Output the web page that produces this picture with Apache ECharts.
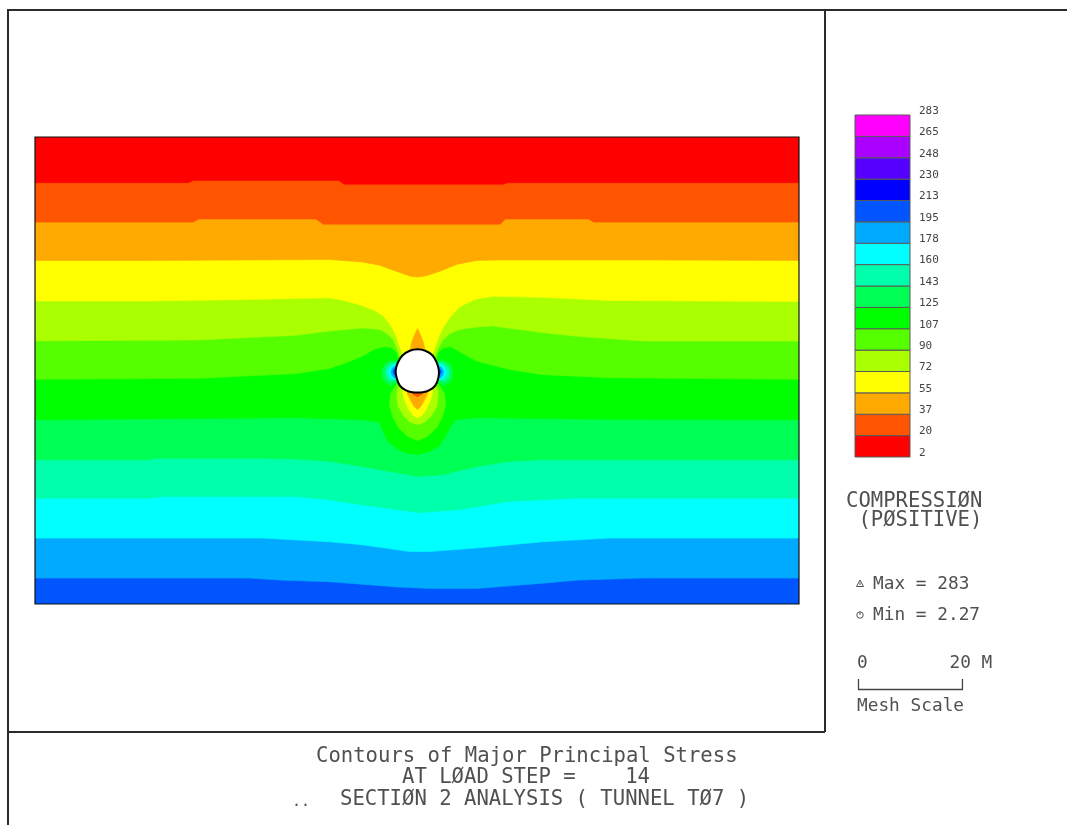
<!DOCTYPE html>
<html>
<head>
<meta charset="utf-8">
<script src="https://cdn.jsdelivr.net/npm/echarts@6/dist/echarts.min.js"></script>
<style>
html,body{margin:0;padding:0;background:#fff;}
#chart{width:1067px;height:825px;}
</style>
</head>
<body>
<div id="chart"></div>
<script>
// Mesh extent (m)
const meshWidth = 147;
const meshHeight = 90;

// Contour levels of major principal stress (compression positive)
const levels = [2.27, 19.82, 37.36, 54.91, 72.46, 90.0, 107.55, 125.1, 142.64, 160.19, 177.74, 195.28, 212.83, 230.38, 247.92, 265.47, 283.0];
const levelLabels = ['2', '20', '37', '55', '72', '90', '107', '125', '143', '160', '178', '195', '213', '230', '248', '265', '283'];
const bandColors = ['#ff0000', '#ff5500', '#ffaa00', '#ffff00', '#aaff00', '#55ff00', '#00ff00', '#00ff55',
                    '#00ffaa', '#00ffff', '#00aaff', '#0055ff', '#0000ff', '#5500ff', '#aa00ff', '#ff00ff'];

// Iso-stress lines across the section, [x (m), y (m)], left to right
const contour20 = [[0,81.2],[29.5,81.2],[30.5,81.6],[58.5,81.6],[59.5,80.9],[90,80.9],[91,81.2],[147,81.2]];
const contour37 = [[0,73.6],[30.5,73.6],[31.5,74.2],[54,74.2],[55.5,73.2],[89.5,73.2],[90.5,74.2],[106.5,74.2],[107.5,73.6],[147,73.6]];
const contour55 = [[0,66.2],[22,66.2],[41.2,66.3],[56.6,66.4],[63,65.9],[66.3,65.3],[69.6,64.1],[72.1,63.2],[73.6,63.0],[75.1,63.2],[77.8,64.1],[81.3,65.5],[85,66.2],[89.4,66.3],[118.3,66.3],[147,66.2]];
const contour72 = [[0,58.4],[22,58.4],[41.2,58.7],[56.6,59.0],[59.9,58.4],[63,57.5],[65.3,56.6],[66.9,55.6],[68.0,54.3],[69.0,52.7],[69.6,51.4],[70.1,49.8],[70.8,48.0],[73.6,45.0],[76.4,48.0],[77.1,49.8],[77.8,51.8],[78.8,53.7],[80.0,55.4],[81.7,57.3],[84.6,58.7],[88.0,59.3],[97.7,59.1],[110.6,58.5],[147,58.3]];
const contour90 = [[0,50.7],[31.6,50.9],[50.3,51.8],[56.6,52.6],[63,53.2],[66.3,52.9],[67.8,52.1],[69.0,50.8],[69.7,49.1],[70.3,47.5],[73.6,45.0],[76.9,47.5],[77.5,49.1],[78.4,50.8],[79.8,52.1],[81.7,52.9],[85.0,53.4],[88.0,53.6],[97.7,52.3],[104.2,51.6],[116.9,50.7],[147,50.7]];
const contour107 = [[0,43.3],[31.6,43.5],[50.3,44.4],[56.6,45.4],[59.9,46.5],[63,47.8],[65.3,49.1],[67.2,49.6],[68.6,49.4],[69.6,48.5],[70.0,47.0],[73.6,45.0],[77.2,47.0],[77.6,48.5],[78.6,49.4],[80.0,49.6],[81.9,48.5],[85.0,46.8],[91.3,45.2],[97.7,44.2],[110.6,43.6],[147,43.3]];
const contour125 = [[0,35.5],[50.3,35.9],[63,35.5],[66.3,35.0],[67.0,33.2],[67.8,31.5],[69.4,30.1],[71.1,29.2],[73.6,28.8],[75.9,29.4],[77.8,30.5],[79.0,32.3],[80.0,34.2],[80.9,35.5],[85.0,35.9],[108.7,35.6],[147,35.5]];
const contour143 = [[0,27.8],[22,27.8],[22.9,28.1],[44.1,28.1],[50.9,27.9],[56.6,27.5],[63,26.5],[69.6,25.3],[73.6,24.6],[78.4,24.9],[85,26.5],[91.3,27.5],[97.7,27.8],[147,27.8]];
const contour160 = [[0,20.4],[22,20.4],[24.5,20.7],[50.3,20.7],[56.6,20.1],[63,19.1],[69.6,18.2],[74,17.6],[81.7,18.2],[91.3,19.8],[104.2,20.4],[147,20.4]];
const contour178 = [[0,12.7],[43.7,12.7],[56.6,12.0],[63,11.4],[72.1,10.1],[75.9,10.1],[85,10.8],[97.7,12.0],[110.6,12.7],[147,12.7]];
const contour195 = [[0,5.0],[41.2,5.0],[47.6,4.6],[56.6,4.3],[69.6,3.3],[75.9,3.0],[85,3.0],[97.7,4.0],[104.2,4.6],[116.9,5.0],[147,5.0]];

// Low-stress zones below the invert and above the crown (closed through the opening)
const invertLobe107 = [[70.1,42.9],[69.2,41.9],[68.4,40.4],[68.2,38.4],[68.8,36.1],[69.9,34.0],[71.7,32.3],[73.6,31.5],[75.5,32.3],[77.3,34.0],[78.4,36.1],[79.0,38.4],[78.8,40.4],[78.0,41.9],[77.1,42.9],[73.6,45.0]];
const invertLobe90 = [[70.4,42.4],[69.7,41.3],[69.6,39.8],[69.9,38.0],[70.9,36.3],[72.2,35.0],[73.6,34.6],[74.9,35.0],[76.3,36.3],[77.3,38.0],[77.6,39.8],[77.5,41.3],[76.8,42.4],[73.6,45.0]];
const invertLobe72 = [[70.9,41.9],[70.7,40.8],[71.1,39.2],[71.9,37.5],[72.8,36.3],[73.6,35.9],[74.4,36.3],[75.3,37.5],[76.1,39.2],[76.5,40.8],[76.3,41.9],[73.6,45.0]];
const invertLobe55 = [[71.5,41.5],[71.7,40.4],[72.3,39.2],[73.0,38.0],[73.6,37.5],[74.2,38.0],[74.9,39.2],[75.5,40.4],[75.6,41.5],[73.6,45.0]];
const invertLobe37 = [[72.3,41.1],[72.8,40.4],[73.6,39.9],[74.4,40.4],[74.9,41.1],[73.6,42.3]];
const crownSpike55 = [[72.2,48.8],[72.4,50.2],[73.0,51.8],[73.6,53.1],[74.2,51.8],[74.8,50.2],[75.0,48.8],[73.6,45.0]];

// High-stress concentrations at the sidewalls
const leftSpot125 = [[69.9,46.8],[68.6,46.9],[67.4,46.3],[66.8,45.2],[66.8,43.8],[67.4,42.7],[68.6,42.1],[70.0,43.0],[72.1,45.0]];
const leftSpot143 = [[69.7,46.5],[68.6,46.4],[67.7,45.7],[67.4,44.8],[67.6,43.6],[68.4,42.9],[69.8,43.3],[72.1,45.0]];
const leftSpot160 = [[69.6,46.2],[68.8,46.0],[68.1,45.3],[68.0,44.6],[68.3,43.8],[68.9,43.3],[69.7,43.4],[72.1,45.0]];
const leftSpot178 = [[69.6,45.9],[68.9,45.6],[68.5,44.9],[68.6,44.2],[69.1,43.6],[69.6,43.7],[72.1,45.0]];
const leftSpot195 = [[69.6,45.6],[69.1,45.3],[68.9,44.8],[69.1,44.2],[69.6,44.0],[72.1,45.0]];
const rightSpot125 = [[77.3,46.8],[78.6,46.9],[79.8,46.3],[80.3,45.2],[80.3,43.8],[79.8,42.7],[78.6,42.1],[77.2,43.0],[75.1,45.0]];
const rightSpot143 = [[77.5,46.5],[78.6,46.4],[79.4,45.7],[79.8,44.8],[79.6,43.6],[78.8,42.9],[77.4,43.3],[75.1,45.0]];
const rightSpot160 = [[77.6,46.2],[78.4,46.0],[79.0,45.3],[79.2,44.6],[78.9,43.8],[78.3,43.3],[77.5,43.4],[75.1,45.0]];
const rightSpot178 = [[77.6,45.9],[78.2,45.6],[78.6,44.9],[78.5,44.2],[78.1,43.6],[77.6,43.7],[75.1,45.0]];
const rightSpot195 = [[77.6,45.5],[78.0,45.2],[78.2,44.8],[78.0,44.3],[77.6,44.1],[75.1,45.0]];

// Tunnel opening
const tunnelOutline = [[73.6,49.1],[72.1,48.8],[70.7,47.9],[69.8,46.5],[69.4,45.0],[69.6,43.5],[70.2,42.1],[71.3,41.2],[72.6,40.8],[74.6,40.8],[75.9,41.2],[77.0,42.1],[77.6,43.5],[77.7,45.0],[77.3,46.5],[76.5,47.9],[75.1,48.8]];

// Painter's order: deepest band first, then regions below each level up to the top
function regionAbove(line) {
  return [[0, meshHeight]].concat(line, [[meshWidth, meshHeight]]);
}
const fieldLayers = [
  { pts: [[0,0],[meshWidth,0],[meshWidth,meshHeight],[0,meshHeight]], band: 11 },
  { pts: regionAbove(contour195), band: 10 },
  { pts: regionAbove(contour178), band: 9 },
  { pts: regionAbove(contour160), band: 8 },
  { pts: regionAbove(contour143), band: 7 },
  { pts: regionAbove(contour125), band: 6 },
  { pts: regionAbove(contour107), band: 5 },
  { pts: regionAbove(contour90), band: 4 },
  { pts: regionAbove(contour72), band: 3 },
  { pts: regionAbove(contour55), band: 2 },
  { pts: regionAbove(contour37), band: 1 },
  { pts: regionAbove(contour20), band: 0 },
  { pts: invertLobe107, band: 5 },
  { pts: invertLobe90, band: 4 },
  { pts: invertLobe72, band: 3 },
  { pts: invertLobe55, band: 2 },
  { pts: invertLobe37, band: 1 },
  { pts: crownSpike55, band: 2 },
  { pts: leftSpot125, band: 7 },
  { pts: rightSpot125, band: 7 },
  { pts: leftSpot143, band: 8 },
  { pts: rightSpot143, band: 8 },
  { pts: leftSpot160, band: 9 },
  { pts: rightSpot160, band: 9 },
  { pts: leftSpot178, band: 10 },
  { pts: rightSpot178, band: 10 },
  { pts: leftSpot195, band: 11 },
  { pts: rightSpot195, band: 11 }
];

const mono = '"DejaVu Sans Mono", "Liberation Mono", monospace';
const ink = '#505050';

const chart = echarts.init(document.getElementById('chart'), null, { renderer: 'canvas' });

chart.setOption({
  backgroundColor: '#ffffff',
  animation: false,
  grid: [
    { left: 35, top: 137, width: 764, height: 467 },
    { left: 855, top: 115, width: 55, height: 342 }
  ],
  xAxis: [
    { type: 'value', gridIndex: 0, min: 0, max: meshWidth, show: false },
    { type: 'value', gridIndex: 1, min: 0, max: 1, show: false }
  ],
  yAxis: [
    { type: 'value', gridIndex: 0, min: 0, max: meshHeight, show: false },
    { type: 'value', gridIndex: 1, min: levels[0], max: levels[levels.length - 1], show: false }
  ],
  series: [
    {
      name: 'stress field',
      type: 'custom',
      xAxisIndex: 0, yAxisIndex: 0,
      clip: true,
      silent: true,
      data: fieldLayers.map((l, i) => [i, 0]),
      renderItem: function (params, api) {
        const layer = fieldLayers[params.dataIndex];
        const c = bandColors[layer.band];
        return {
          type: 'polygon',
          shape: { points: layer.pts.map(p => api.coord(p)) },
          style: { fill: c, stroke: c, lineWidth: 0.6 }
        };
      }
    },
    {
      name: 'opening',
      type: 'custom',
      xAxisIndex: 0, yAxisIndex: 0,
      clip: false,
      silent: true,
      data: [[0, 0]],
      renderItem: function (params, api) {
        const tl = api.coord([0, meshHeight]);
        const br = api.coord([meshWidth, 0]);
        return {
          type: 'group',
          children: [
            {
              type: 'polygon',
              shape: { points: tunnelOutline.map(p => api.coord(p)), smooth: 0.35 },
              style: { fill: '#ffffff', stroke: '#000000', lineWidth: 2 }
            },
            {
              type: 'rect',
              shape: { x: tl[0], y: tl[1], width: br[0] - tl[0], height: br[1] - tl[1] },
              style: { fill: null, stroke: '#111111', lineWidth: 1.2 }
            }
          ]
        };
      }
    },
    {
      name: 'legend bands',
      type: 'custom',
      xAxisIndex: 1, yAxisIndex: 1,
      silent: true,
      data: bandColors.map((c, i) => [0, i]),
      renderItem: function (params, api) {
        const i = params.dataIndex;
        const lo = api.coord([0, levels[i]]);
        const hi = api.coord([1, levels[i + 1]]);
        return {
          type: 'rect',
          shape: { x: lo[0], y: hi[1], width: hi[0] - lo[0], height: lo[1] - hi[1] },
          style: { fill: bandColors[i], stroke: '#5a5a5a', lineWidth: 1 }
        };
      }
    },
    {
      name: 'legend labels',
      type: 'custom',
      xAxisIndex: 1, yAxisIndex: 1,
      silent: true,
      data: levels.map(v => [1, v]),
      renderItem: function (params, api) {
        const p = api.coord([1, levels[params.dataIndex]]);
        return {
          type: 'text',
          style: {
            text: levelLabels[params.dataIndex],
            x: p[0] + 9, y: p[1] - 4,
            font: '11px ' + mono,
            fill: '#444444',
            align: 'left', verticalAlign: 'middle'
          }
        };
      }
    }
  ]
});

// Annotation panel: frame, captions, extreme values and mesh scale bar
const x0 = chart.convertToPixel({ xAxisIndex: 0 }, 0);
const x20 = chart.convertToPixel({ xAxisIndex: 0 }, 20);
const barLeft = 858.5;
const barRight = barLeft + (x20 - x0);

function label(text, x, y, size) {
  return {
    type: 'text', silent: true,
    style: { text: text, x: x, y: y, font: size + 'px ' + mono, fill: ink,
             align: 'left', verticalAlign: 'middle', textAlign: 'left', textVerticalAlign: 'middle' }
  };
}
const frameStyle = { stroke: '#2b2b2b', lineWidth: 2 };

chart.setOption({
  graphic: [
    { type: 'line', silent: true, shape: { x1: 8, y1: 10, x2: 1067, y2: 10 }, style: frameStyle },
    { type: 'line', silent: true, shape: { x1: 8, y1: 9, x2: 8, y2: 825 }, style: frameStyle },
    { type: 'line', silent: true, shape: { x1: 825, y1: 10, x2: 825, y2: 732 }, style: frameStyle },
    { type: 'line', silent: true, shape: { x1: 8, y1: 732, x2: 825, y2: 732 }, style: frameStyle },

    label('COMPRESSIØN', 846, 502, 20.6),
    label(' (PØSITIVE)', 846, 521, 20.6),

    { type: 'polygon', silent: true, shape: { points: [[856.5, 586.5], [860, 580], [863.5, 586.5]] },
      style: { fill: null, stroke: ink, lineWidth: 1 } },
    { type: 'line', silent: true, shape: { x1: 860, y1: 582.5, x2: 860, y2: 585 }, style: { stroke: ink, lineWidth: 1 } },
    label('Max = 283', 873, 584, 17.8),

    { type: 'circle', silent: true, shape: { cx: 860, cy: 615, r: 3.2 },
      style: { fill: null, stroke: ink, lineWidth: 1 } },
    { type: 'line', silent: true, shape: { x1: 860, y1: 611.8, x2: 860, y2: 615 }, style: { stroke: ink, lineWidth: 1 } },
    label('Min = 2.27', 873, 615.5, 17.8),

    label('0', 857, 663, 17.8),
    label('20 M', 949.5, 663, 17.8),
    { type: 'polyline', silent: true,
      shape: { points: [[barLeft, 679], [barLeft, 689.5], [barRight, 689.5], [barRight, 679]] },
      style: { fill: null, stroke: '#444444', lineWidth: 1.3 } },
    label('Mesh Scale', 857, 706, 17.8),

    label('Contours of Major Principal Stress', 316, 757, 20.6),
    label('AT LØAD STEP =    14', 402, 778, 20.6),
    label('..', 292, 802, 15),
    label('SECTIØN 2 ANALYSIS ( TUNNEL TØ7 )', 340, 800, 20.6)
  ]
});
</script>
</body>
</html>
